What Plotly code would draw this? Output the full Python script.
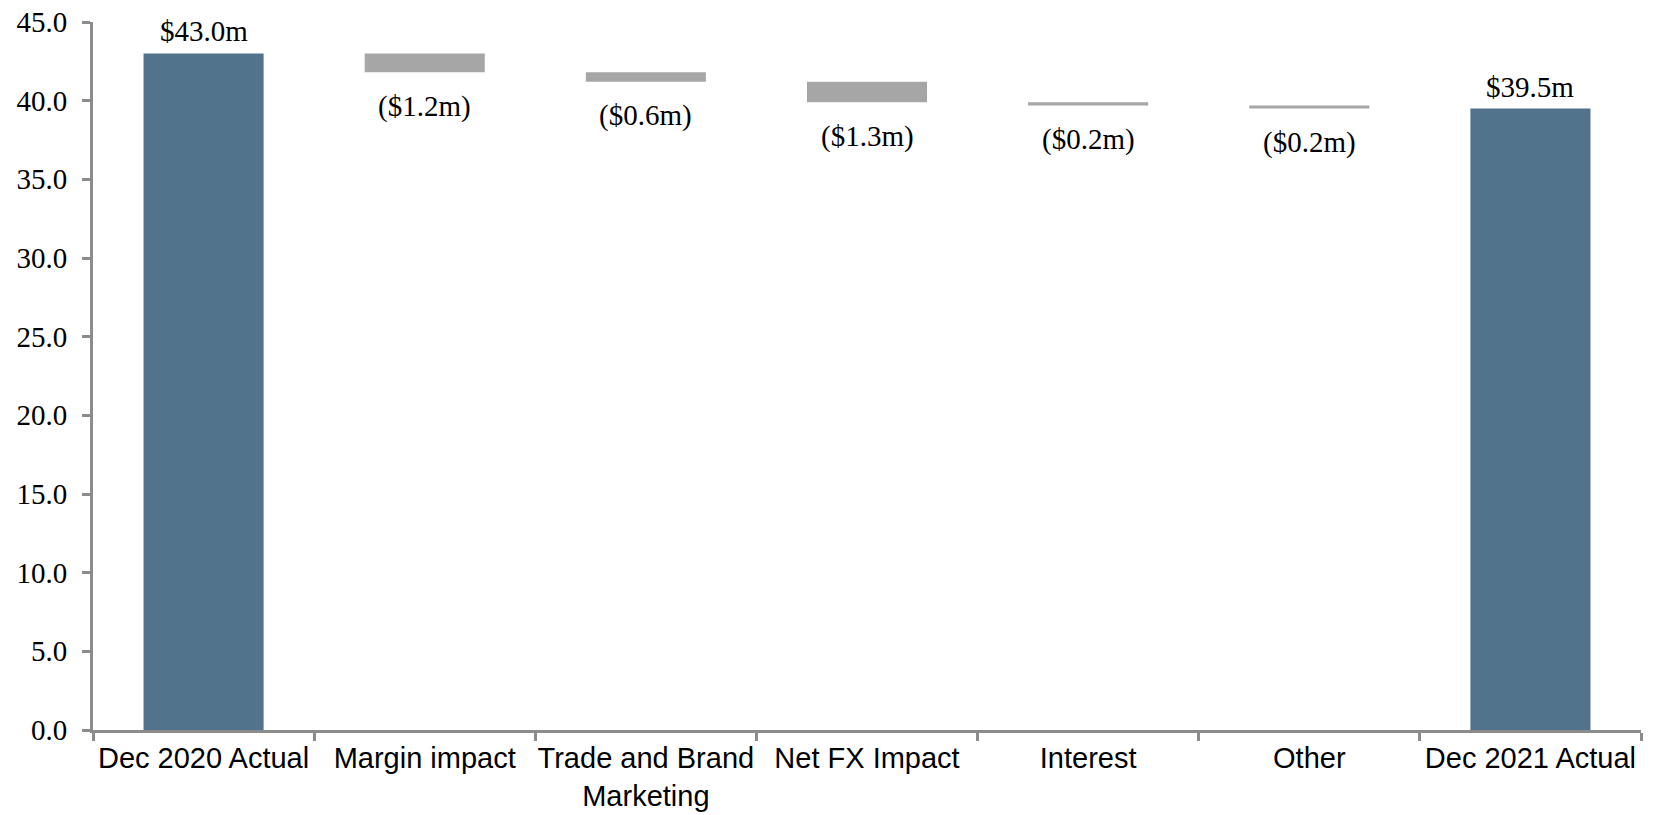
import plotly.graph_objects as go

# Profit bridge: Dec 2020 to Dec 2021 ($m)
categories = ["Dec 2020 Actual", "Margin impact", "Trade and Brand<br>Marketing",
              "Net FX Impact", "Interest", "Other", "Dec 2021 Actual"]
values = [43.0, -1.2, -0.6, -1.3, -0.2, -0.2, 39.5]
measures = ["absolute", "relative", "relative", "relative", "relative", "relative", "absolute"]
y_ticks = [0, 5, 10, 15, 20, 25, 30, 35, 40, 45]

TOTAL_COLOR = "#52738C"
DECREASE_COLOR = "#A6A6A6"
AXIS_COLOR = "#8C8C8C"
SERIF = "Liberation Serif, Times New Roman, serif"
SANS = "Liberation Sans, Arial, sans-serif"

fig = go.Figure(go.Waterfall(
    x=categories,
    y=values,
    measure=measures,
    totals=dict(marker=dict(color=TOTAL_COLOR, line=dict(width=0))),
    decreasing=dict(marker=dict(color=DECREASE_COLOR, line=dict(width=0))),
    increasing=dict(marker=dict(color=TOTAL_COLOR, line=dict(width=0))),
    connector=dict(visible=False),
    hoverinfo="skip",
))

# value labels: totals above the bar, movements beneath the bar
annotations = []
running = 0.0
for cat, val, m in zip(categories, values, measures):
    if m == "absolute":
        running = val
        annotations.append(dict(x=cat, y=val, text=f"${val:.1f}m", showarrow=False,
                                yanchor="middle", yshift=22,
                                font=dict(family=SERIF, size=29, color="#000000")))
    else:
        running += val
        annotations.append(dict(x=cat, y=running, text=f"(${abs(val):.1f}m)", showarrow=False,
                                yanchor="middle", yshift=-34,
                                font=dict(family=SERIF, size=29, color="#000000")))

fig.update_layout(
    width=1656, height=815,
    margin=dict(l=93, r=15, t=22, b=85),
    paper_bgcolor="white", plot_bgcolor="white",
    waterfallgap=0.457,
    showlegend=False,
    annotations=annotations,
)
fig.update_xaxes(
    showline=True, linecolor=AXIS_COLOR, linewidth=3,
    ticks="outside", tickson="boundaries", ticklen=8, tickwidth=3, tickcolor=AXIS_COLOR,
    showgrid=False, zeroline=False, tickangle=0, automargin=False,
    tickfont=dict(family=SANS, size=29, color="#000000"),
)
fig.update_yaxes(
    range=[0, 45], tickvals=y_ticks, tickformat=".1f",
    showline=True, linecolor=AXIS_COLOR, linewidth=3,
    ticks="outside", ticklen=8, tickwidth=3, tickcolor=AXIS_COLOR,
    showgrid=False, zeroline=False, ticklabelstandoff=9, automargin=False,
    tickfont=dict(family=SERIF, size=29, color="#000000"),
)

fig.write_html("out.html")
